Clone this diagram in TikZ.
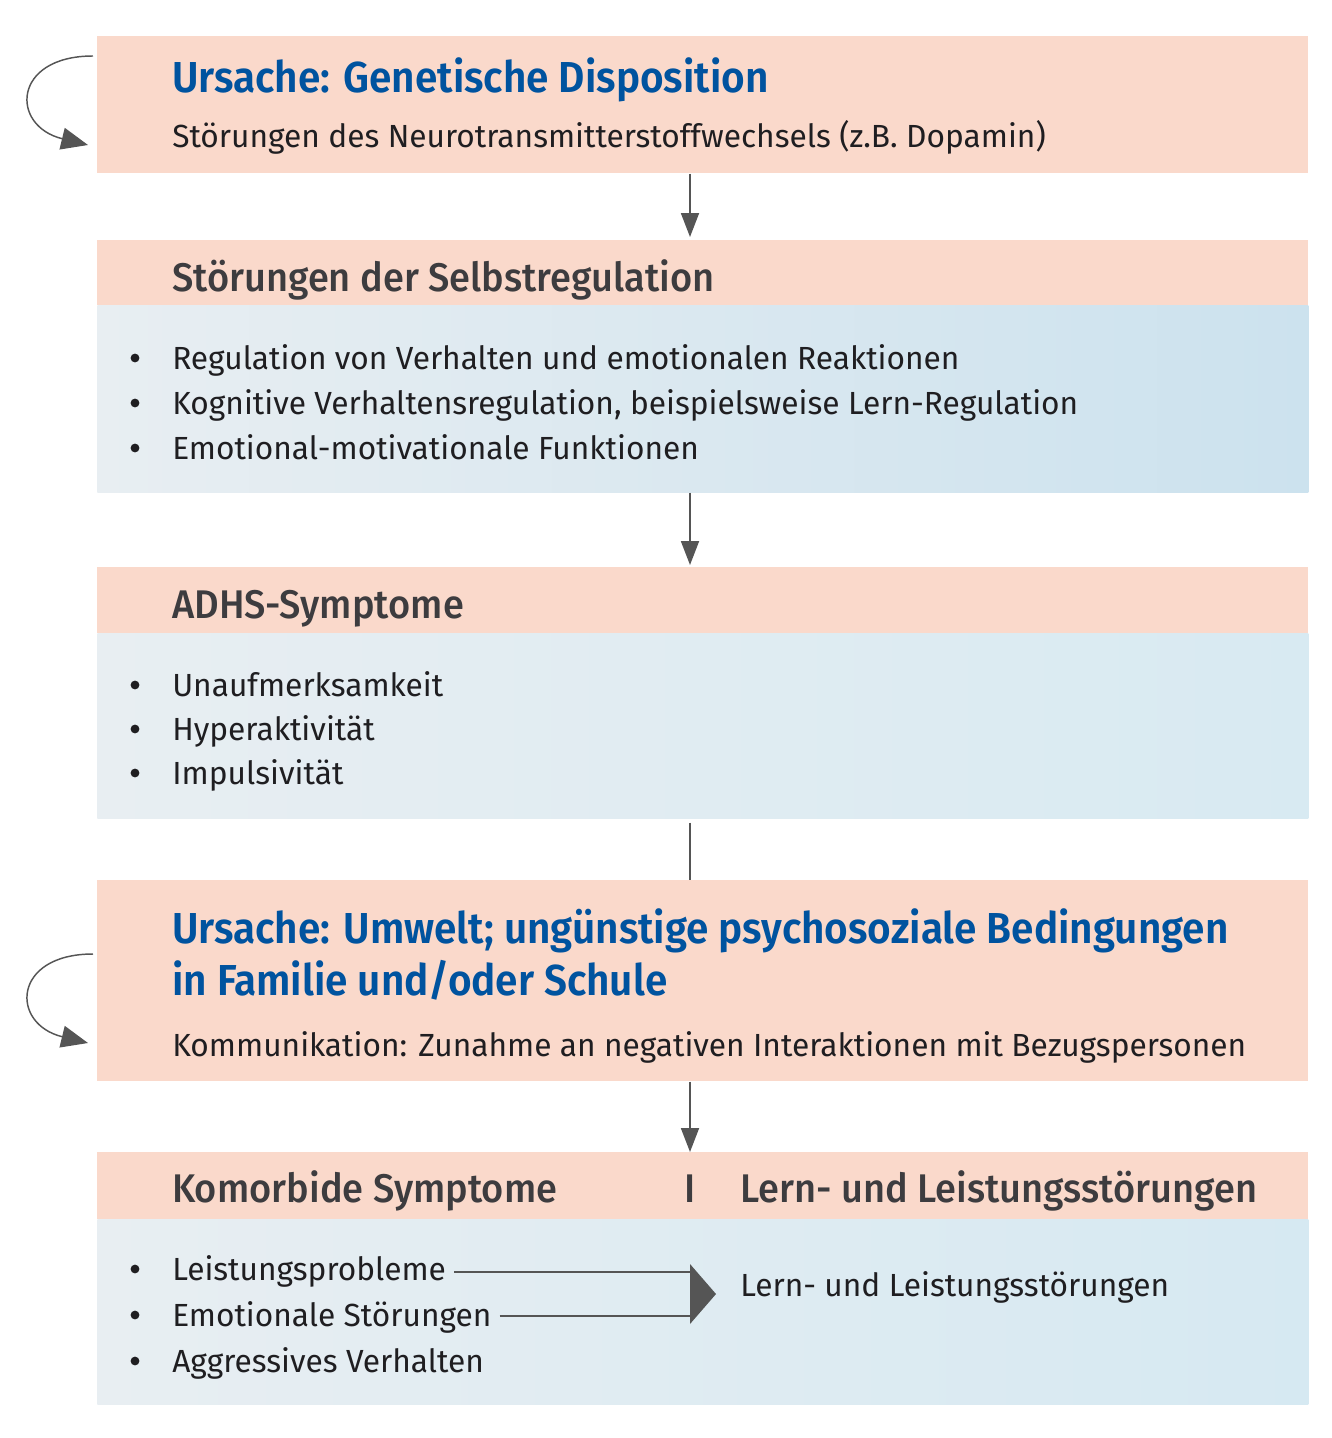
\documentclass[tikz,border=0pt]{standalone}
\usepackage{fontspec}
\setmainfont{Fira Sans}[FakeStretch=0.99]
\newfontfamily\ttlfont{Fira Sans SemiBold}[FakeStretch=0.935]
\newfontfamily\hdrfont{Fira Sans Medium}[FakeStretch=0.95]
\usetikzlibrary{arrows.meta}
\definecolor{salmon}{HTML}{FAD9CB}
\definecolor{blueL}{HTML}{E8EEF2}
\definecolor{blueRa}{HTML}{CCE2EE}
\definecolor{blueRb}{HTML}{D8EAF2}
\definecolor{blueRc}{HTML}{D6E9F2}
\definecolor{ttlblue}{HTML}{00539F}
\definecolor{hdrgray}{HTML}{3D3C3F}
\definecolor{txtc}{HTML}{1F1E21}
\definecolor{argray}{HTML}{555555}
\tikzset{
  pinkbox/.style={fill=salmon, draw=none, anchor=north west, inner sep=0pt, minimum width=1211*0.75pt},
  bluebox/.style={left color=blueL, right color=#1, draw=none, anchor=north west, inner sep=0pt, minimum width=1211*0.75pt},
  ttl/.style={anchor=base west, inner sep=0pt, text=ttlblue, font=\ttlfont\fontsize{32.5pt}{39pt}\selectfont},
  hdr/.style={anchor=base west, inner sep=0pt, text=hdrgray, font=\hdrfont\fontsize{30pt}{36pt}\selectfont},
  bodytxt/.style={anchor=base west, inner sep=0pt, text=txtc, font=\fontsize{24pt}{29pt}\selectfont},
  bul/.style={circle, fill=txtc, inner sep=0pt, minimum size=6.6pt},
  conn/.style={draw=argray, line width=1.4pt, -{Triangle[length=18pt,width=13.5pt]}},
  plainconn/.style={draw=argray, line width=1.4pt},
  loopconn/.style={draw=argray, line width=1.1pt, -{Triangle[length=20pt,width=16.5pt]}},
}
\begin{document}
\begin{tikzpicture}[x=0.75pt,y=-0.75pt]
\useasboundingbox (0,0) rectangle (1331,1438);
% boxes
\node[pinkbox, minimum height=137*0.75pt] (b1) at (97,36) {};
\node[pinkbox, minimum height=65*0.75pt] (b2h) at (97,240) {};
\node[bluebox=blueRa, minimum height=187*0.75pt] (b2b) at (97,305) {};
\node[pinkbox, minimum height=66*0.75pt] (b3h) at (97,567) {};
\node[bluebox=blueRb, minimum height=185*0.75pt] (b3b) at (97,633) {};
\node[pinkbox, minimum height=201*0.75pt] (b4) at (97,880) {};
\node[pinkbox, minimum height=67*0.75pt] (b5h) at (97,1152) {};
\node[bluebox=blueRc, minimum height=185*0.75pt] (b5b) at (97,1219) {};
% texts box 1
\node[ttl] (t1) at (172,93) {Ursache: Genetische Disposition};
\node[bodytxt] (t1b) at (172,147) {Störungen des Neurotransmitterstoffwechsels (z.B. Dopamin)};
% box 2
\node[hdr] (h2) at (172,291) {Störungen der Selbstregulation};
\node[bul] (p2a) at (135,358) {};
\node[bodytxt] (l2a) at (172,369) {Regulation von Verhalten und emotionalen Reaktionen};
\node[bul] (p2b) at (135,403) {};
\node[bodytxt] (l2b) at (172,414) {Kognitive Verhaltensregulation, beispielsweise Lern-Regulation};
\node[bul] (p2c) at (135,448) {};
\node[bodytxt] (l2c) at (172,459) {Emotional-motivationale Funktionen};
% box 3
\node[hdr] (h3) at (172,618) {ADHS-Symptome};
\node[bul] (p3a) at (135,685) {};
\node[bodytxt] (l3a) at (172,696) {Unaufmerksamkeit};
\node[bul] (p3b) at (135,729) {};
\node[bodytxt] (l3b) at (172,740) {Hyperaktivität};
\node[bul] (p3c) at (135,773) {};
\node[bodytxt] (l3c) at (172,784) {Impulsivität};
% box 4
\node[ttl] (t4a) at (172,943) {Ursache: Umwelt; ungünstige psychosoziale Bedingungen};
\node[ttl] (t4b) at (172,995) {in Familie und/oder Schule};
\node[bodytxt] (t4c) at (172,1056) {Kommunikation: Zunahme an negativen Interaktionen mit Bezugspersonen};
% box 5
\node[hdr] (h5) at (172,1202) {Komorbide Symptome};
\node[hdr, anchor=base] (h5s) at (690,1202) {I};
\node[hdr] (h5r) at (740,1202) {Lern- und Leistungsstörungen};
\node[bul] (p5a) at (135,1269) {};
\node[bodytxt] (l5a) at (172,1280) {Leistungsprobleme};
\node[bul] (p5b) at (135,1315) {};
\node[bodytxt] (l5b) at (172,1326) {Emotionale Störungen};
\node[bul] (p5c) at (135,1361) {};
\node[bodytxt] (l5c) at (172,1372) {Aggressives Verhalten};
\node[bodytxt] (r5) at (740,1296) {Lern- und Leistungsstörungen};
% connectors
\coordinate (ax) at (690,0);
\draw[conn, shorten >=2.25pt] (b1.south -| ax) -- (b2h.north -| ax);
\draw[conn, shorten >=1.5pt] (b2b.south -| ax) -- (b3h.north -| ax);
\draw[plainconn, shorten <=3pt] (b3b.south -| ax) -- (b4.north -| ax);
\draw[conn] (b4.south -| ax) -- (b5h.north -| ax);
% merge arrow
\coordinate (m1) at (690,1272);
\coordinate (m2) at (690,1316);
\draw[plainconn, line width=1.3pt] ([xshift=6pt]l5a.east |- m1) -- (m1);
\draw[plainconn, line width=1.3pt] ([xshift=6pt]l5b.east |- m2) -- (m2);
\fill[argray] (690,1264) -- (716,1294) -- (690,1324) -- cycle;
% loops
\coordinate (s1) at (93,56);
\coordinate (e1) at (88,145);
\draw[loopconn] (s1) .. controls (12,56) and (10,126) .. (e1);
\coordinate (s4) at (93,954);
\coordinate (e4) at (88,1043);
\draw[loopconn] (s4) .. controls (12,954) and (10,1024) .. (e4);
\end{tikzpicture}
\end{document}
